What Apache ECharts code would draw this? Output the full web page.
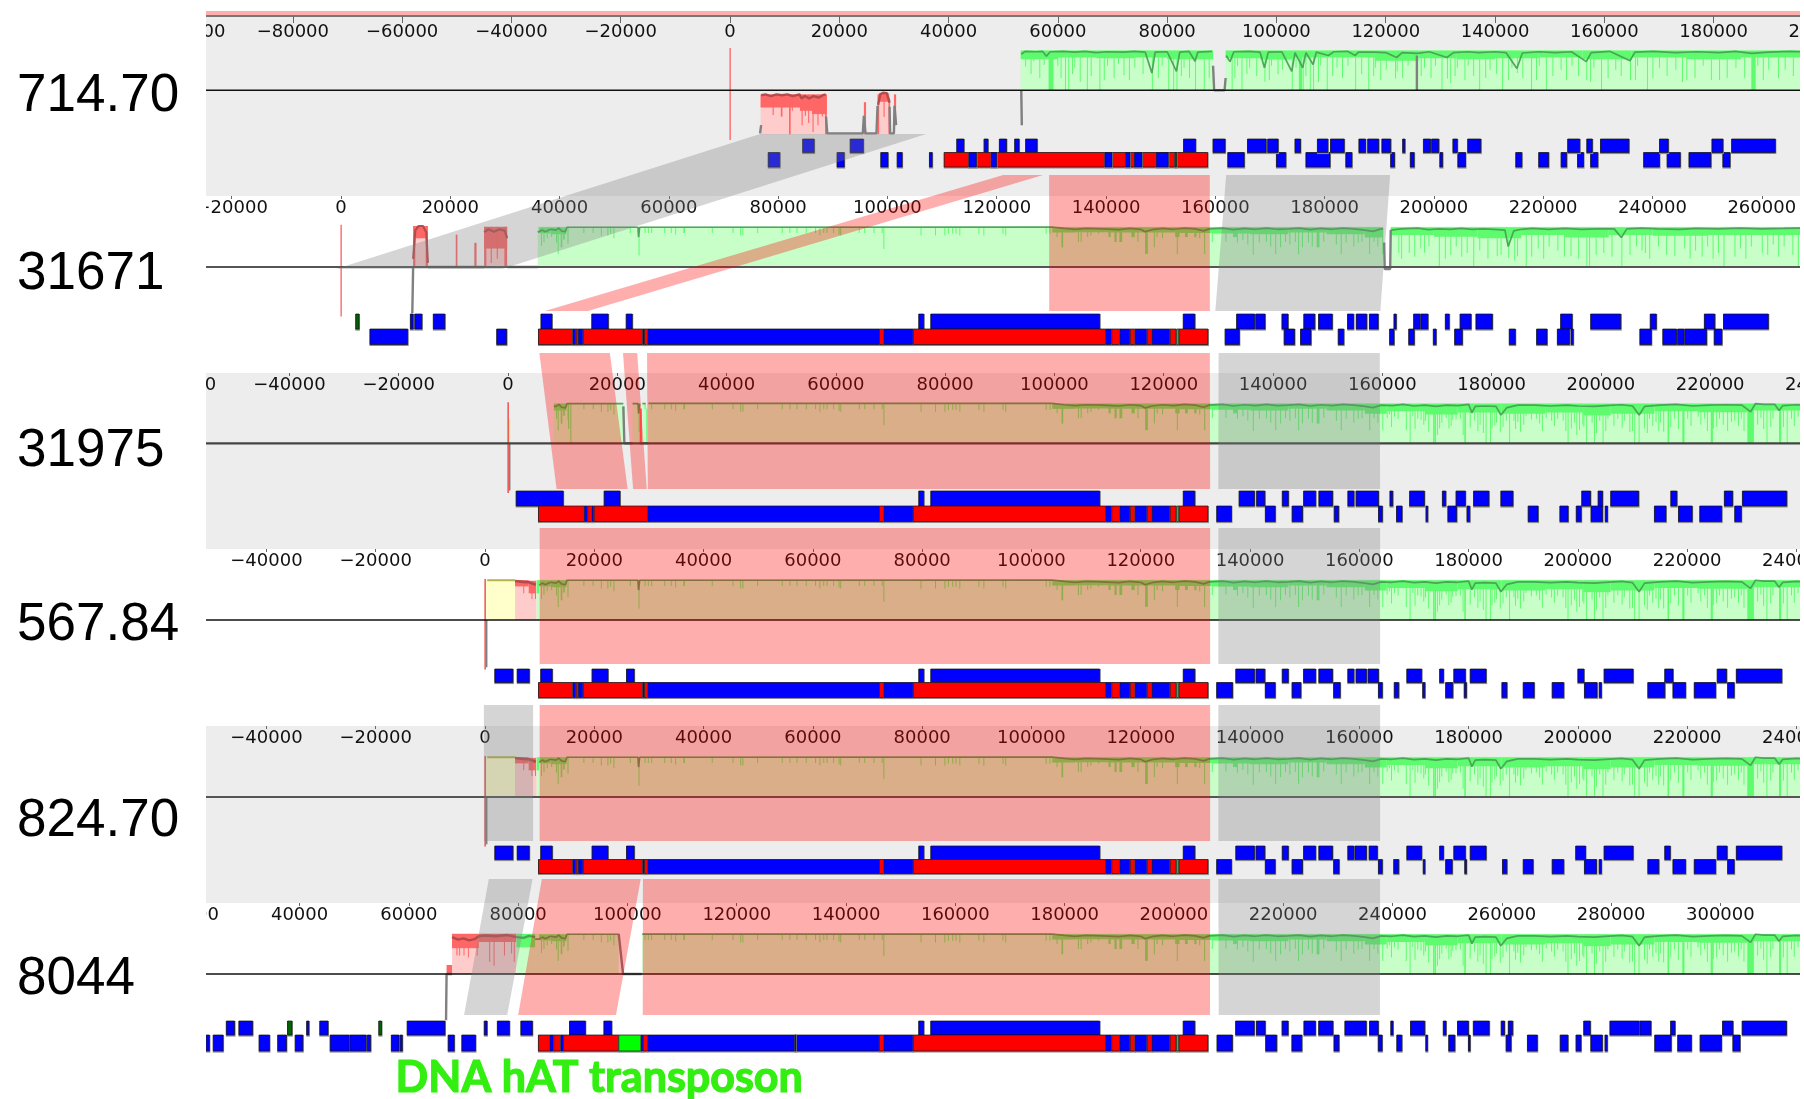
<!DOCTYPE html>
<html><head><meta charset="utf-8">
<style>html,body{margin:0;padding:0;background:#fff}#c{width:1804px;height:1099px}</style>
<script src="https://cdn.jsdelivr.net/npm/echarts@6/dist/echarts.min.js"></script>
</head><body><div id="c"></div>
<script>
// ---- labels and axes
const trackNames=['714.70','31671','31975','567.84','824.70','8044'];
const axisMin=[-100000,-40000,-60000,-60000,-60000,20000];
const axisMax=[220000,280000,260000,260000,260000,315000];
const tickStep=20000;
const noteText='DNA hAT transposon';
// kb offset of each track against the reference coordinate of track 4
const kbShift=[-44.835,26.35,-4.2,0,0,73.93];
const coreStart=[null,36.14,5.58,9.79,9.79,83.71];

// ---- features, [start kb, end kb], upper and lower row per track
const upper1=[[13.3,15.4],[22,24.4],[41.5,42.8],[46.5,47.2],[49.3,50.6],[52.1,52.9],[54.1,56.2],[83,85.2],[88.4,90.6],[94.7,98.1],[98.4,100.3],[103.4,104.4],[107.5,109.4],[109.9,112.4],[115.1,116.3],[116.7,118.7],[119.3,120.9],[123.1,123.5],[126.9,128.2],[128.4,129.7],[132.3,133.1],[135,137.4],[153.3,155.5],[156.8,157.8],[159.3,164.5],[170.1,171.7],[179.7,181.7],[183.3,191.3]];
const lower1=[[7,9.1],[19.6,20.9],[27.6,28.9],[30.6,31.5],[36.5,37],[91.1,94.1],[100,101.7],[105.4,109.8],[112.7,113.8],[120.9,121.6],[124.5,125.2],[129.9,130.4],[133.2,134.6],[143.8,144.9],[148,149.8],[152.1,153.1],[155.1,156.2],[157.5,158.8],[167.2,170.1],[171.5,173.9],[175.5,179.5],[181.7,183]];
const red1=[[39.2,87.4]];
const redBlue1=[[43.7,45.1],[47.8,48.8],[68.6,69.9],[72.4,73.2],[74,75.4],[78,80.2]];
const redGreen1=[[81.4,81.7]];

const upper2=[[12.7,13.2],[13.5,14.8],[16.9,19],[36.6,38.6],[45.9,48.9],[52.2,53.3],[163.9,167.2],[167.4,169.1],[172.2,173.3],[176.2,178.2],[178.9,181.4],[184.2,185.3],[185.8,187.7],[188.2,189.8],[192.7,193.1],[196.3,197.5],[197.6,198.9],[202.1,202.8],[204.8,206.8],[207.7,210.7],[223.2,225.3],[228.7,234.2],[239.6,240.7],[249.5,251.4],[253,261.2]];
const lower2=[[5.3,12.2],[28.5,30.3],[161.8,164.4],[172.6,174.5],[175.6,177.5],[182.5,183.5],[191.9,192.7],[195.4,196.4],[199.9,200.4],[203.8,205.2],[213.8,214.9],[218.8,220.7],[222.6,224.8],[225.1,225.5],[237.7,239.8],[241.9,244.4],[244.6,245.8],[245.9,249.9],[251.3,252.7]];
const thin2=[[2.7,3.3]];

const upper3=[[1.5,10.1],[17.6,20.5],[133.8,136.6],[137,138.5],[141.7,142.8],[145.6,147.8],[148.4,150.9],[153.7,154.8],[155.2,159.3],[161.4,161.9],[165,167.7],[171,171.6],[173.5,175.2],[176.7,179.5],[181.7,183.9],[196.5,198.1],[199.5,200.3],[201.8,206.9],[212.8,213.9],[222.6,224.1],[225.9,234]];
const lower3=[[129.7,132.4],[138.6,140.4],[143.5,145.4],[151.2,152],[159.3,160],[162.6,163.6],[168,168.3],[172,173.6],[175.5,176],[186.7,188.5],[192.5,194],[195.5,196.4],[198.2,200.3],[200.8,201.2],[209.8,211.9],[214.2,216.7],[218.1,222.1],[224.5,225.7]];

const upper4=[[1.8,5.1],[5.9,8.1],[10.2,12.3],[19.6,22.5],[25.9,27.3],[137.4,140.8],[141.1,142.7],[145.9,147],[149.8,152],[152.6,155.1],[157.9,159],[159.4,161.3],[161.6,163.5],[168.7,171.4],[174.7,175.4],[177.3,179.4],[180.3,183.2],[200,201.1],[204.8,210.1],[215.9,217.4],[225.5,227.2],[229,237.3]];
const lower4=[[133.9,136.8],[142.8,144.6],[147.7,149.3],[155.3,156.5],[163.5,164.2],[166.4,167.2],[171.6,172],[175.8,177.1],[179.2,179.6],[186.1,187],[190,192],[195.3,197.4],[201.2,203.5],[203.9,204.3],[212.8,215.9],[217.4,219.7],[221.3,225.2],[227.4,228.6]];

const upper5=[[1.8,5.1],[5.9,8.1],[10.2,12.3],[19.6,22.5],[25.9,27.3],[137.4,140.8],[141.1,142.7],[145.9,147],[149.8,152],[152.6,155.1],[157.9,159],[159.2,161.3],[161.8,163.3],[168.7,171.4],[174.7,175.4],[177.3,179.4],[180.3,183.2],[199.6,201.4],[204.8,210.1],[215.9,216.9],[225.5,227.3],[229,237.3]];
const lower5=[[133.9,136.6],[142.8,144.6],[147.7,149.6],[155.3,156.3],[163.5,164.2],[166.3,167.2],[171.7,172],[175.8,177],[179.3,179.6],[186.2,187],[190,191.8],[195.3,197.4],[201.2,203.4],[203.9,204.3],[212.8,214.8],[217.4,219.7],[221.3,225.2],[227.4,228.6]];

const upper6=[[26.6,28.1],[28.9,31.4],[41.3,41.7],[43.7,45.2],[59.7,66.6],[73.8,74.3],[76.2,78.4],[80.5,82.6],[89.4,92.3],[95.7,97.1],[211.3,214.7],[215.1,216.7],[219.8,220.9],[223.8,225.9],[226.5,229.1],[231.3,235.2],[235.8,237.4],[239.7,240.1],[243.3,245.9],[249.3,249.8],[251.9,253.9],[254.8,257.7],[259.9,260.5],[261.2,262],[275,276.2],[279.8,285.2],[285.3,287.3],[290.9,291.7],[300.4,302.3],[304,312.1]];
const lower6=[[22.9,23.5],[24.2,26],[32.6,34.5],[36,37.6],[39.2,40.6],[45.6,49.1],[49.2,52.2],[52.4,53],[56.8,58.2],[58.4,58.8],[67.2,68.3],[69.7,72.2],[207.9,210.7],[216.8,218.8],[221.6,223.4],[229.3,230.2],[237.4,238.1],[240.8,241.7],[246.1,246.4],[250.3,251.4],[253.9,254.2],[260.8,261.7],[264.7,266.5],[270.7,272.1],[273.6,274.5],[276.3,278.4],[278.9,279.3],[288,291],[292.2,294.7],[296.3,300.2],[302.3,303.6]];
const thin6=[[37.8,38.6],[54.5,55]];

// core strip kb from its own start: colour 0 blue, 1 red, 2 green
const coreLeftA=[[0,6.3,1],[6.3,6.9,0],[6.9,7.3,1],[7.3,8.2,0],[8.2,19.1,1],[19.1,19.4,0],[19.4,20,1]];
const coreLeftT3=[[0,8.4,1],[8.4,9,0],[9,9.8,1],[9.8,10.2,0],[10.2,20,1]];
const coreLeftT6=[[0,2.1,1],[2.1,2.8,0],[2.8,4.1,1],[4.1,4.6,0],[4.6,14.7,1],[14.7,18.8,2],[18.8,19.2,0],[19.2,20,1]];
const coreRight=[[20,62.4,0],[62.4,63.2,1],[63.2,68.6,0],[68.6,103.8,1],[103.8,104.9,0],[104.9,106.4,1],[106.4,108.3,0],[108.3,109.2,1],[109.2,111.4,0],[111.4,112.3,1],[112.3,115.6,0],[115.6,116.7,1],[116.8,117.2,2],[117.2,122.5,1]];
const coreMark=[46.9];
const coreUpper=[[69.6,70.5],[71.8,102.7],[118,120.1]];

// ---- signal, T4 coordinate, shared by tracks 2-6: [kb, lowest value, optional width kb]
const sharedDips=[[10.25,.51],[10.7,.61],[11.3,.7],[12.1,.73],[13,.6],[13.3,.32],[13.85,.48,.3],[14.3,.67,.3],[15.1,.57],[18,.83],[19.7,.83],[21.2,.77],[22.4,.77],[22.9,.81],[23.5,.7],[26.5,.83],[28.1,.28],[29.2,.83],[29.8,.83],[30.4,.83],[32.8,.83],[34,.83],[34.8,.79],[36.3,.83,.3],[41.5,.83],[45.3,.83],[46.7,.77],[47.1,.77],[49.8,.83],[54.3,.83],[55.7,.83],[57,.83],[58.7,.83],[60.4,.83],[61.2,.77],[61.9,.83],[62.5,.83],[63.7,.83],[64.7,.79],[65,.77],[68.4,.83],[69.4,.83],[71.1,.83],[72.6,.83],[72.9,.44],[79.7,.77],[82.35,.77],[84.06,.77],[84.7,.81],[85.5,.81],[86.1,.81],[86.8,.77],[90.3,.81],[91.2,.77],[94.7,.81],[95.2,.77],[102.6,.81],[103.3,.81],[104.6,.73],[105.5,.48,.3],[108.5,.61],[109,.61],[110.2,.73],[110.8,.77],[112.2,.81],[114.1,.73,.4],[115.2,.61,.4],[116.1,.61,.5],[118.3,.73,.6],[119.4,.61],[120.8,.32,.5],[122.4,.48],[122.9,.73],[123.9,.7],[126.3,.73,.8],[126.6,.32],[128.1,.73,.5],[129.8,.73,.4],[130.7,.7],[131.6,.32],[133,.61],[134.4,.81],[135.5,.62],[136.9,.73,.7],[137.6,.6],[138.6,.66],[139.5,.55],[140.5,.3],[141.6,.6],[142.9,.61],[143.7,.5],[144.6,.32],[145.5,.48],[146.4,.61],[147.2,.55],[148.2,.61],[148.8,.32],[149.5,.48],[150.6,.6],[151.3,.5],[152.2,.48,.5],[153.4,.62],[154.9,.81],[155.7,.55],[156.6,.32],[157.5,.6],[158.9,.5],[159.7,.6],[160.4,.61],[161.8,.32],[162.6,.61],[163.3,.5],[164.2,.32],[165,.62],[165.4,.7],[165.8,.4],[166.35,.65],[167,.6],[168.5,.32],[169.2,0],[169.7,.66],[170.1,.35],[170.6,.6],[171.2,.57],[171.7,.45],[172,.55],[172.6,.28],[173.5,0,.3],[173.85,0],[174.2,.2],[174.6,.36],[175,.5],[175.8,.62],[176.3,.36],[176.7,.42],[177,.57],[177.6,.58],[178.4,.6],[178.9,.2],[179.2,0,.3],[180.2,.38],[181,.55],[181.6,.3],[182,.45],[182.6,.25],[183.1,0],[183.9,0],[184.2,.36],[184.7,.42],[185,.5],[185.7,.28],[186.2,.4],[186.8,.55],[187.4,0],[188.2,.55],[188.5,.35],[188.9,.52],[189.4,.28],[190,.45],[190.4,.66],[191.4,.58],[192.3,.6],[192.9,.48],[193.4,.3],[194.1,.62],[195.1,.55],[195.6,.42],[196.2,.6],[197.2,.55],[197.7,.3],[198.1,0],[198.7,.36],[199.3,.5],[199.7,.2],[200.2,.32],[200.8,.45],[201,.4],[201.5,0],[202.5,.5],[202.95,0],[203.3,.25],[203.9,.55],[204.5,0],[205,.3],[205.4,.6],[206.5,.42],[207.2,.6],[208,.38],[208.4,.55],[209.4,.28],[209.9,.3],[210.3,0],[211.1,0],[212.1,.36],[212.6,.25],[213,.6],[213.6,.42],[214.2,.52],[214.7,.3],[215,.5],[215.6,.28],[216.4,0,.3],[216.9,.4],[217.6,.6],[218.3,.35],[219.1,0,.4],[220,.6],[220.6,.42],[221.9,.65],[222.4,.45],[223.1,.6],[223.6,.3],[224.3,0,.4],[224.7,.36],[225.3,.4],[225.8,.6],[226.5,.45],[227.3,.3],[228,.52],[228.6,.55],[229.3,.42],[229.8,.6],[230.3,.3],[231,0,1.2],[232.8,.45],[233.4,.62],[233.9,.35],[234.5,0],[235.2,.4],[235.6,.6],[236.8,0,.4],[237.5,.4],[238.2,0],[239,.6],[239.5,.42],[240.2,.65],[241,.45]];
const sharedBands=[[9.9,12,.82],[12,14.9,.8],[103.8,108,.84],[108,114,.85],[114,120,.84],[120,127,.84],[127,133,.83],[133,140,.82],[140,147,.8],[147,154,.84],[154,161,.8],[161,165,.72],[165,172,.78],[172,178,.7],[178,186,.75],[186,194,.72],[194,201,.75],[201,206,.68],[206,214,.72],[214,222,.78],[222,231,.76],[231,241.5,.8]];
const sharedTop=[[9.9,.85],[10.5,.9],[11,.86],[12,.92],[13,.9],[13.5,.95],[14,.88],[14.7,.86],[15,.97],[28,.97],[28.1,.73],[28.3,.97],[103.7,.975],[104,.93],[106,.94],[108,.92],[110,.94],[113,.93],[116,.91],[118,.94],[120,.92],[120.8,.86],[122,.91],[124,.94],[126,.92],[128,.95],[130,.93],[131.5,.88],[132.5,.93],[135,.95],[137,.91],[139,.94],[141,.92],[143,.95],[145,.92],[147,.93],[149,.95],[151,.91],[153,.94],[155,.92],[157,.95],[159,.93],[161,.9],[162.5,.87],[164,.93],[166,.92],[168,.95],[170,.91],[172,.93],[174,.9],[176,.93],[178,.92],[180,.95],[180.6,.74],[181.2,.9],[183,.91],[185,.9],[185.9,.69],[187,.87],[189,.93],[192,.93],[195,.91],[198,.93],[200,.91],[203,.9],[205,.92],[208,.94],[210,.91],[211.2,.69],[212.2,.9],[215,.93],[218,.95],[221,.91],[224,.93],[227,.94],[230,.93],[231.6,.77],[232.5,.97],[234,.95],[236,.95],[236.8,.8],[237.5,.92],[240,.94],[242,.93]];
// track kb ranges in which the shared signal is present
const sharedRanges=[[],[[36,190.7]],[[8.4,21.1],[22.8,24.1],[24.6,25.2],[25.7,240]],[[9.9,245]],[[9.9,245]],[[83.1,98.4],[102.7,320]]];

// ---- track 1 green part
const ranges1=[[53.2,88.4],[90.65,200]];
const dips1=[[54,.58],[55,.4],[55.5,.71],[56.6,.3],[57.4,.62],[58.3,0,.9],[59.9,.6],[60.5,.3],[61.3,0],[61.9,0],[62.6,.4],[63,.55],[64,.2],[65.3,0],[66,.35],[67.6,0],[68.4,.25],[69,.6],[70.2,.3],[71,.65],[72,.37],[73,.25],[74,.55],[75.5,.4],[77.2,0],[78.3,.3],[79,.6],[80.2,0],[81.1,0],[81.7,0],[82.5,.35],[83,.55],[84,.3],[85.1,0],[86.7,0],[87.6,.3],[91.8,0],[92.3,.3],[92.8,.6],[93.6,0],[94.5,.4],[95,.55],[96.3,.35],[97.8,.21],[98.6,.25],[99,.6],[100.2,.4],[101,.5],[102.8,0],[103.5,.55],[104.1,0,.6],[104.8,0],[105.3,.35],[106.1,0],[106.7,0],[107.6,.2],[108,.6],[109.2,0],[110.2,.35],[111,.55],[112,.3],[113,.6],[114.4,0],[115.5,.4],[116.8,0],[117.7,.35],[118,.55],[119,.25],[120,.5],[121.7,.29],[122,.46],[123,.3],[124,.6],[125.7,0],[126.4,.35],[127,.55],[128.2,.3],[129,.6],[130.2,0],[131.2,.29],[131.8,.17],[132.6,.35],[133,.55],[134.4,.25],[135,.6],[136,.35],[137.1,0],[138.2,.3],[139,.5],[140.2,.4],[141.3,0],[142.4,.25],[143,.55],[144,.42],[145,.3],[146.6,0],[147.5,.25],[148,.6],[149.3,0],[150.5,.35],[152,.5],[153,.25],[154,.6],[155.2,.35],[156.7,.25],[157.4,.2],[158,.55],[159.4,0],[160.6,.3],[162,.5],[163,.35],[164.7,.25],[165.6,.25],[166,.6],[167.8,0],[168.8,.3],[170,.55],[171.4,.35],[173,.5],[174.2,.2],[175,.25],[176.5,.3],[178,.6],[179.5,.25],[181,.25],[182.4,.3],[184,.55],[185.6,.3],[186.9,0,.8],[188,.6],[189,.25],[190,.5],[191.8,.3],[193,.5],[194.5,.35],[196,.3],[197.5,.25],[199,.4]];
const bands1=[[53.2,60,.76],[60,67,.8],[67,74,.78],[74,80,.8],[80,88.4,.76],[90.7,97,.78],[97,103,.75],[103,110,.8],[110,118,.8],[118,126,.72],[126,133,.78],[133,140,.76],[140,148,.78],[148,156,.8],[156,165,.76],[165,175,.8],[175,185,.76],[185,200,.8]];
const top1a=[[53.3,.88],[54,.95],[56,.94],[57.2,.95],[57.9,.83],[58.6,.94],[61,.95],[63,.93],[65,.95],[67,.92],[69,.94],[72,.93],[74,.95],[76,.93],[77.2,.42],[77.8,.93],[80,.94],[81.7,.46],[82.3,.93],[84,.95],[85.1,.71],[85.6,.93],[88.2,.95]];
const top1b=[[90.8,.85],[91.5,.7],[92.2,.94],[95,.95],[97,.93],[97.8,.55],[98.5,.93],[101,.94],[102.8,.46],[103.4,.92],[104.8,.55],[105.4,.92],[106.7,.63],[107.3,.93],[109.5,.85],[110.5,.94],[113,.95],[114.4,.85],[115,.93],[118,.93],[120,.92],[122,.8],[123,.92],[125.7,.9],[128,.94],[131.2,.8],[132.4,.92],[135,.94],[137,.92],[140,.94],[142,.92],[144,.53],[145,.91],[148,.94],[151,.92],[154,.94],[156.7,.7],[157.6,.92],[161,.95],[164.7,.72],[165.6,.93],[169,.95],[173,.92],[177,.94],[181,.92],[184,.95],[187,.9],[190,.93],[194,.95],[198,.93],[200,.95]];
const gray1=[[[53.4,-.85],[53.3,0]],[[88.4,.6],[88.6,0],[90.5,0],[90.7,.3]],[[125.7,0],[125.7,.85]],[[5.5,-1.05],[5.7,-.85]],[[17.57,-.64],[17.8,-1.05],[24.3,-1.05],[24.5,-.62],[24.8,-1.05],[26.8,-1.05],[27,-.38]],[[29.2,-.4],[29.3,-1.05],[30,-1.05],[30.1,-.38],[30.4,-.85]]];
const red1Line=[[[5.7,-.12],[6.5,-.1],[7.5,-.14],[8.5,-.1],[9.5,-.12],[10.5,-.1],[11.5,-.14],[12.7,-.1],[13.1,-.2],[13.7,-.14],[14.5,-.2],[15.3,-.14],[16.2,-.18],[17,-.12],[17.5,-.1]],[[27.1,-.35],[27.5,-.1],[28,-.06],[28.7,-.07],[29.2,-.3]]];

// ---- track 2 special parts
const dips2=[[193.5,.34],[194,.2],[195.4,.34],[196.4,.25],[197.5,.45],[198.2,.35],[199,.5],[200.9,0],[202,.2],[203,.3],[204,.5],[205,.25],[206,.34],[207.2,0],[208.3,.4],[209.8,.2],[211.5,.26],[212.2,.3],[213.6,.22],[214.7,.15],[215.2,.26],[216.8,0],[217.8,.25],[219,.45],[220,.2],[221,.5],[222.6,.4],[223.8,.25],[225,.26],[226.4,.2],[227.9,0],[228.4,0],[229.6,.3],[231,.34],[232.5,.25],[234.3,0],[235.8,.3],[237,.5],[238,.4],[238.6,.34],[239.4,.2],[241,.5],[242.5,.3],[244,.26],[245.8,.45],[246.8,.2],[247.8,.4],[249,.25],[250,.5],[251,.2],[252,.34],[253,0],[255,.25],[256,.45],[257,.2],[258,.5],[260,.34],[261,.3],[262,.55],[263,.25],[264,.5],[265.6,.3],[266.6,0]];
const bands2=[[192,200,.78],[200,208,.74],[208,216,.7],[216,224,.78],[224,232,.72],[232,240,.78],[240,250,.76],[250,268,.78]];
const top2=[[192.1,.9],[194,.93],[197,.95],[199,.91],[201,.93],[203,.92],[205,.94],[207,.92],[209,.93],[211,.92],[213,.9],[213.6,.5],[214.6,.88],[216,.92],[218,.94],[221,.92],[224,.94],[227,.92],[230,.93],[233,.93],[234.3,.72],[235.3,.93],[238,.95],[241,.93],[245,.92],[248,.94],[252,.93],[256,.95],[260,.93],[264,.94],[267,.95]];
const gray2=[[[13.05,-1.13],[13.2,0]],[[15.9,0],[26.2,0]],[[30.4,0],[36,0]],[[190.9,.6],[191,-.05],[192,-.05],[192.1,.9]]];
const gray3=[[[21.1,.9],[21.3,0],[22.8,0]],[[24.1,0],[25.7,0]]];
const gray6=[[[66.8,-1.13],[66.9,0],[67.9,0]],[[98.4,.98],[99.2,0],[102.6,0]]];
const grayOrigin=[[.3,0],[.3,-1.15]];
// [start, end, low, high, colour: 0 pale green, 1 green, 2 pale red, 3 red, 4 pale yellow, 5 yellow, 6 marker red]
const blocks1=[[5.6,12.8,-1.07,-.1,2],[12.8,17.7,-1.07,-.1,2],[27,29.3,-1.07,-.07,2],[5.6,12.8,-.42,-.1,3],[12.8,15,-.5,-.1,3],[15,17.7,-.58,-.1,3],[24.5,24.9,-1.07,-.29,3],[27,27.3,-1.07,-.1,3],[29,29.3,-1.07,-.2,3],[27.3,29,-.28,-.07,3],[28.1,28.3,-.65,-.1,3],[30,30.4,-.85,-.1,3],[9.3,9.6,-.64,-.1,3],[10.8,11.1,-1.07,-.1,3],[7.8,8,-.6,-.1,3],[11.3,11.5,-.5,-.1,3],[13.1,13.3,-.85,-.1,3],[13.7,13.9,-.62,-.1,3],[14.3,14.5,-.8,-.1,3],[15.1,15.3,-1.02,-.1,3],[16,16.2,-.85,-.1,3],[16.8,17,-.64,-.1,3],[17.4,17.7,-1.07,-.1,3]];
const blocks2=[[13.2,15.9,0,1,2],[13.2,13.6,0,1,3],[15.5,15.9,0,1,3],[13.6,15.5,.7,1,3],[21,21.3,0,.79,3],[24.4,24.8,0,.59,3],[26.2,30.4,0,.98,2],[26.2,30.4,.45,.98,3],[26.2,26.6,0,.98,3],[27.4,27.6,.1,.98,3],[28.5,28.7,.2,.98,3],[29.9,30.4,0,.98,3]];
const blocks3=[[.1,.4,0,.6,5],[21.1,21.3,.05,.9,1],[24.1,24.5,0,.85,3],[25.3,25.5,0,.85,1]];
const blocks4=[[.2,5.5,0,.97,4],[5.5,9.45,0,.97,2],[9.45,9.9,0,.97,0],[5.5,8,.82,.97,3],[8,9.3,.65,.95,3],[7,7.15,.65,.95,3],[8.5,8.65,.51,.95,3],[9.15,9.3,.51,.95,3],[9.45,9.9,.65,.97,1]];
const blocks6=[[66.9,67.9,0,.22,3],[67.9,79.7,0,.98,2],[67.9,72.8,.63,.98,3],[72.8,79.7,.78,.98,3],[68.7,68.9,.45,.9,3],[69.2,69.35,.45,.9,3],[70,70.15,.45,.9,3],[70.8,70.95,.4,.9,3],[72.4,72.55,.45,.9,3],[74.7,74.85,.3,.9,3],[75.5,75.65,.2,.9,3],[77.4,77.55,.45,.9,3],[78.7,78.85,.5,.9,3],[79.2,79.35,.3,.9,3],[79.7,83.1,0,.98,0],[79.7,83.1,.65,.98,1]];
const dark4=[[.4,.97],[5.5,.97]];
const redDark4=[[5.5,.95],[7,.93],[8,.92],[9.3,.86]];
const redDark6=[[67.9,.9],[69,.84],[70,.87],[71,.82],[72,.85],[72.8,.92],[74,.94],[76,.92],[78,.95],[79.7,.9]];
const greenDark6=[[79.7,.9],[81,.88],[82,.93],[83.1,.9]];

// ---- ribbons: band, top track, top start, top end, bottom track, bottom start, bottom end, colour (0 red, 1 grey)
const ribbons=[
 [6,3,-55,245,3,-55,245,0],
 [0,0,5.5,35.9,1,-.9,29.5,1],
 [1,0,50,57.3,1,37.3,45.2,0],[1,0,58.4,87.8,1,129.6,159,0],[1,0,90.8,120.8,1,160,190.2,1],
 [2,1,36.3,49.2,2,8.9,21.9,0],[2,1,51.6,54.2,2,22.9,25.4,0],[2,1,56,159,2,25.6,128.5,0],[2,1,160.6,190.1,2,130,159.6,1],
 [3,2,5.8,128.5,3,10,132.7,0],[3,2,130,159.6,3,134.2,163.8,1],
 [4,3,-.2,8.8,4,-.2,8.8,1],[4,3,10,132.7,4,10,132.7,0],[4,3,134.2,163.8,4,134.2,163.8,1],
 [5,4,.7,8.7,5,70.1,78,1],[5,4,10.4,28.5,5,80,97.9,0],[5,4,28.9,132.7,5,102.8,206.6,0],[5,4,134.2,163.8,5,208.2,237.7,1]
];

// ---- layout and style
const W=1804,H=1099,PLOT_L=206,PLOT_R=1800,PX_PER_KB=5.4645,UNIT=41,K=1000;
const zeroPx=[730,341,508,485,485,81];
const panelTop=[16,196,373,549,726,903];
const panelBot=[196,373,549,726,903,1099];
const panelBg=['#ededed','#fff','#ededed','#fff','#ededed','#fff'];
const base=[90.3,267,443.3,620,797,974];
const rowUp=[[139,152.5],[314,329],[491,506],[669,682.5],[846,859.5],[1021,1035]];
const rowLo=[[152.5,167],[329,344.5],[506,521.5],[682.5,697.5],[859.5,873.5],[1035,1051]];
const bands=[[134,269],[175,311],[353,489],[528,664],[705,841],[879,1015],[11,15]];
const nameY=[93,271,448,622,818,976];
const labelMargin=[7.5,3.5,3.5,3.5,3.5,3.5];
const tickLen=[7,3,3,3,3,3];
const baseColor=['#111','#555','#444','#111','#555','#111'];
const baseWidth=[1.6,2.2,2.2,1.6,2.2,1.6];
const SIG=['#c8ffc8','#5ffb6f','#ffcccc','#ff6666','#ffffcc','#e8e860','#f04040'];
const FEAT=['#0000ff','#ff0000','#00ff00','#006400'];
const RIB=['rgba(255,0,0,0.318)','rgba(128,128,128,0.33)'];

const grids=[],xAxes=[],yAxes=[],series=[];
for(let t=0;t<6;t++){
  grids.push({show:true,backgroundColor:panelBg[t],borderWidth:0,outerBoundsMode:'none',containLabel:false,
    left:zeroPx[t]+axisMin[t]/K*PX_PER_KB,width:(axisMax[t]-axisMin[t])/K*PX_PER_KB,
    top:panelTop[t],height:panelBot[t]-panelTop[t]});
  xAxes.push({type:'value',gridIndex:t,position:'top',min:axisMin[t],max:axisMax[t],interval:tickStep,
    splitLine:{show:false},
    axisLine:{show:t===0,onZero:false,lineStyle:{color:'#777',width:2}},
    axisTick:{show:true,inside:true,length:tickLen[t],lineStyle:{color:'#666',width:1}},
    axisLabel:{show:true,inside:true,margin:labelMargin[t],color:'#111',fontFamily:'DejaVu Sans',fontSize:18,
      showMinLabel:true,showMaxLabel:false,hideOverlap:false,
      formatter:v=>String(v).replace('-','\u2212')}});
  yAxes.push({type:'value',gridIndex:t,show:false,min:-(panelBot[t]-base[t])/UNIT,max:(base[t]-panelTop[t])/UNIT,splitLine:{show:false}});
}
// overlay grid for ribbons: x in the reference coordinate, y in page rows
grids.push({left:zeroPx[3]+axisMin[3]/K*PX_PER_KB,width:(axisMax[3]-axisMin[3])/K*PX_PER_KB,top:0,height:H,show:false,outerBoundsMode:'none',containLabel:false});
xAxes.push({type:'value',gridIndex:6,min:axisMin[3],max:axisMax[3],show:false,splitLine:{show:false}});
yAxes.push({type:'value',gridIndex:6,min:0,max:H,inverse:true,show:false,splitLine:{show:false}});

function rects(t,rows){
  series.push({type:'custom',xAxisIndex:t,yAxisIndex:t,z:2,silent:true,clip:true,animation:false,
    data:rows.map(r=>[r[0]*K,r[1]*K,r[2],r[3],r[4]]),encode:{x:[0,1],y:[2,3]},
    renderItem(p,api){
      const a=api.coord([api.value(0),api.value(3)]),b=api.coord([api.value(1),api.value(2)]);
      return {type:'rect',shape:{x:a[0],y:a[1],width:Math.max(b[0]-a[0],1),height:b[1]-a[1]},style:{fill:SIG[api.value(4)]}};
    }});
}
function polyline(t,pts,color,width,z){
  series.push({type:'line',xAxisIndex:t,yAxisIndex:t,z:z||3,silent:true,animation:false,showSymbol:false,symbol:'none',
    data:pts.map(p=>[p[0]*K,p[1]]),lineStyle:{color:color,width:width}});
}
function features(t,items,rowIndex,colour){
  const rows=items.map(i=>[i[0]*K,i[1]*K,0,rowIndex,i.length>2?i[2]:colour]);
  series.push({type:'custom',xAxisIndex:t,yAxisIndex:t,z:4,silent:true,clip:true,animation:false,
    data:rows,encode:{x:[0,1],y:[2]},
    renderItem(p,api){
      const x0=api.coord([api.value(0),0])[0],x1=api.coord([api.value(1),0])[0];
      const r=(api.value(3)===0?rowUp:rowLo)[t];
      const w=Math.max(x1-x0,1.2);
      return {type:'group',children:[
        {type:'rect',shape:{x:x0-.5,y:r[0],width:w+1.5,height:r[1]-r[0]+1.6},style:{fill:'#8a8a8a'}},
        {type:'rect',shape:{x:x0,y:r[0],width:w,height:r[1]-r[0]},style:{fill:FEAT[api.value(4)],stroke:'#111',lineWidth:.7}}
      ]};
    }});
}
function greenProfile(t,ranges,dips,bandList){
  const rows=[];
  ranges.forEach(r=>rows.push([r[0],r[1],0,.98,0]));
  bandList.forEach(b=>{ranges.forEach(r=>{const s=Math.max(b[0],r[0]),e=Math.min(b[1],r[1]);if(s<e)rows.push([s,e,b[2],.97,1]);});});
  dips.forEach(d=>{if(ranges.some(r=>d[0]>=r[0]&&d[0]<=r[1]))rows.push([d[0],d[0]+(d[2]||0.1),d[1],.95,1]);});
  rects(t,rows);
}
const GD='rgba(74,160,86,.95)',RD='rgba(176,74,74,.95)',YD='rgba(176,176,70,.95)',GY='#808080';

// baselines
for(let t=0;t<6;t++) polyline(t,[[axisMin[t]/K,0],[axisMax[t]/K,0]],baseColor[t],baseWidth[t],5);

// track 1
greenProfile(0,ranges1,dips1,bands1);
rects(0,blocks1);
polyline(0,top1a,GD,1.7);polyline(0,top1b,GD,1.7);
gray1.forEach(g=>polyline(0,g,GY,2.4));
red1Line.forEach(g=>polyline(0,g,RD,2.4));
// tracks 2 - 6 shared
for(let t=1;t<6;t++){
  const s=kbShift[t];
  const d=sharedDips.map(x=>[x[0]+s,x[1],x[2]]);
  const b=sharedBands.map(x=>[x[0]+s,x[1]+s,x[2]]);
  greenProfile(t,sharedRanges[t],d,b);
  sharedRanges[t].forEach(r=>{
    const pts=sharedTop.map(p=>[p[0]+s,p[1]]).filter(p=>p[0]>=r[0]&&p[0]<=r[1]);
    if(pts.length>1) polyline(t,[[r[0],pts[0][1]],...pts,[r[1],pts[pts.length-1][1]]],GD,1.7);
    else polyline(t,[[r[0],.97],[r[1],.97]],GD,1.7);
  });
}
// track 2 extras
greenProfile(1,[[192.1,268]],dips2,bands2);
rects(1,blocks2);polyline(1,top2,GD,1.7);gray2.forEach(g=>polyline(1,g,GY,2.4));
polyline(1,[[13.2,.2],[13.6,.9],[14.2,1],[15,1],[15.6,.85],[15.9,.1]],RD,2.2);
polyline(1,[[26.2,.85],[27,.92],[28,.86],[29,.92],[30,.88],[30.4,.7]],RD,2.2);
// track 3 extras
rects(2,blocks3);gray3.forEach(g=>polyline(2,g,GY,2.4));
rects(2,[[11.4,11.6,0,.95,1],[11,11.2,.35,.95,1]]);
// track 4, 5 extras
[3,4].forEach(t=>{rects(t,blocks4);polyline(t,dark4,YD,2);polyline(t,redDark4,RD,2.6);});
// track 6 extras
rects(5,blocks6);polyline(5,redDark6,RD,2.4);polyline(5,greenDark6,GD,2.4);gray6.forEach(g=>polyline(5,g,GY,2.4));
// origin markers: a grey stem with the red marker drawn over it
const originTop=[1.03,1.03,1,1,1,1];
[2,3,4].forEach(t=>polyline(t,grayOrigin,GY,1.6,1));
for(let t=0;t<6;t++) rects(t,[[-.1,.15,-1.21,originTop[t],t>=2&&t<=4?6:3]]);

// features
features(0,lower1,1,0);features(0,upper1,0,0);
features(0,red1,1,1);features(0,redBlue1,1,0);features(0,redGreen1,1,3);
const allUp=[null,upper2,upper3,upper4,upper5,upper6],allLo=[null,lower2,lower3,lower4,lower5,lower6];
const coreLefts=[null,coreLeftA,coreLeftT3,coreLeftA,coreLeftA,coreLeftT6];
for(let t=1;t<6;t++){
  features(t,allUp[t],0,0);
  features(t,coreUpper.map(c=>[c[0]+coreStart[t],c[1]+coreStart[t]]),0,0);
  features(t,allLo[t],1,0);
  features(t,coreLefts[t].concat(coreRight).map(c=>[c[0]+coreStart[t],c[1]+coreStart[t],c[2]]),1,0);
}
features(1,thin2,0,3);features(5,thin6,0,3);
features(5,coreMark.map(c=>[c+coreStart[5],c+coreStart[5]+.2]),1,0);

// ribbons
series.push({type:'custom',xAxisIndex:6,yAxisIndex:6,z:10,silent:true,animation:false,clip:false,
  data:ribbons,encode:{x:[2],y:[0]},
  renderItem(p,api){
    const b=bands[api.value(0)],tt=api.value(1),bt=api.value(4);
    const c=(kb,tr,y)=>api.coord([(kb-kbShift[tr])*K,y]);
    return {type:'polygon',shape:{points:[c(api.value(2),tt,b[0]),c(api.value(3),tt,b[0]),c(api.value(6),bt,b[1]),c(api.value(5),bt,b[1])]},
      style:{fill:RIB[api.value(7)]}};
  }});

const graphicEls=[
  {type:'rect',z:100,shape:{x:0,y:0,width:PLOT_L,height:H},style:{fill:'#fff'},silent:true},
  {type:'rect',z:100,shape:{x:PLOT_R,y:0,width:W-PLOT_R,height:H},style:{fill:'#fff'},silent:true},
  {type:'text',z:101,left:395,top:1056,style:{text:noteText,fill:'#33ee11',stroke:'#33ee11',lineWidth:1.2,font:'bold 43px Lato'},silent:true}
];
trackNames.forEach((n,i)=>graphicEls.push({type:'text',z:101,left:17,top:nameY[i]-23,style:{text:n,fill:'#000',font:'53px "Liberation Sans"'},silent:true}));

const chart=echarts.init(document.getElementById('c'),null,{renderer:'canvas',width:W,height:H});
chart.setOption({animation:false,backgroundColor:'#fff',grid:grids,xAxis:xAxes,yAxis:yAxes,series:series,graphic:{elements:graphicEls}});
</script></body></html>
